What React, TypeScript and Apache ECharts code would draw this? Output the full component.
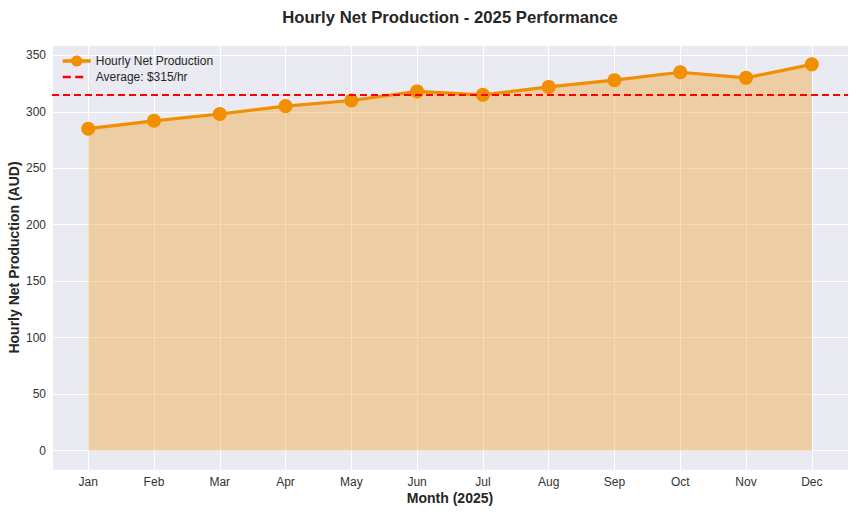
import React, { useEffect, useRef } from "react";
import * as echarts from "echarts";

const months = ["Jan", "Feb", "Mar", "Apr", "May", "Jun", "Jul", "Aug", "Sep", "Oct", "Nov", "Dec"];
const production = [285, 292, 298, 305, 310, 318, 315, 322, 328, 335, 330, 342];
const average = 315;
const seriesName = "Hourly Net Production";
const avgName = "Average: $315/hr";

const FONT = "'Liberation Sans', Arial, sans-serif";

export default function App() {
  const ref = useRef<HTMLDivElement>(null);
  useEffect(() => {
    if (!ref.current) return;
    const chart = echarts.init(ref.current, null, { renderer: "svg" });
    const maxV = Math.max(...production);
    const yPad = maxV * 0.05;
    const n = months.length - 1;
    chart.setOption({
      animation: false,
      backgroundColor: "#ffffff",
      textStyle: { fontFamily: FONT },
      title: {
        text: "Hourly Net Production - 2025 Performance",
        left: 445,
        textAlign: "center",
        top: 4,
        textStyle: { fontSize: 16.7, fontWeight: "bold", color: "#262626", fontFamily: FONT },
      },
      legend: {
        orient: "vertical",
        left: 56,
        top: 50,
        itemWidth: 28,
        itemHeight: 14,
        itemGap: 4,
        textStyle: { fontSize: 12, color: "#262626", fontFamily: FONT },
        data: [
          { name: seriesName, lineStyle: { width: 3.5 } },
          {
            name: avgName,
            icon: "path://M0,0H8V2.5H0Z M12.5,0H20.5V2.5H12.5Z M27.9,0H28V2.5H27.9Z",
            itemStyle: { color: "#FF0000" },
          },
        ],
      },
      grid: {
        left: 52,
        right: 8,
        top: 45,
        bottom: 44,
        show: true,
        backgroundColor: "#EAEAF2",
        borderWidth: 0,
        containLabel: false,
        outerBoundsMode: "none",
      },
      xAxis: {
        type: "value",
        min: -0.55,
        max: n + 0.55,
        minInterval: 1,
        maxInterval: 1,
        name: "Month (2025)",
        nameLocation: "middle",
        nameGap: 21,
        nameMoveOverlap: false,
        nameTextStyle: { fontSize: 14, fontWeight: "bold", color: "#262626", fontFamily: FONT },
        axisLine: { show: false },
        axisTick: { show: false },
        axisLabel: {
          showMinLabel: false,
          showMaxLabel: false,
          margin: 6,
          fontSize: 12,
          color: "#333333",
          fontFamily: FONT,
          formatter: (v: number) => (Number.isInteger(v) && v >= 0 && v <= n ? months[v] : ""),
        },
        splitLine: { show: true, lineStyle: { color: "#ffffff", width: 1 } },
      },
      yAxis: {
        type: "value",
        min: -yPad,
        max: maxV + yPad,
        minInterval: 50,
        maxInterval: 50,
        splitNumber: 7,
        name: "Hourly Net Production (AUD)",
        nameLocation: "middle",
        nameGap: 31,
        nameMoveOverlap: false,
        nameTextStyle: { fontSize: 14, fontWeight: "bold", color: "#262626", fontFamily: FONT },
        axisLine: { show: false },
        axisTick: { show: false },
        axisLabel: {
          showMinLabel: false,
          showMaxLabel: false,
          margin: 6,
          fontSize: 12,
          color: "#333333",
          fontFamily: FONT,
        },
        splitLine: { show: true, lineStyle: { color: "#ffffff", width: 1 } },
      },
      series: [
        {
          name: seriesName,
          type: "line",
          data: production.map((v, i) => [i, v]),
          symbol: "circle",
          symbolSize: 14,
          clip: false,
          lineStyle: { color: "#F18F01", width: 3.2 },
          itemStyle: { color: "#F18F01" },
          areaStyle: { color: "rgba(241,143,1,0.32)", opacity: 1, origin: 0 },
          z: 3,
        },
        {
          name: avgName,
          type: "line",
          data: [],
          symbol: "none",
          lineStyle: { color: "#FF0000", width: 2, type: [7, 4] },
          itemStyle: { color: "#FF0000" },
          markLine: {
            silent: true,
            symbol: ["none", "none"],
            label: { show: false },
            lineStyle: { color: "#FF0000", width: 2, type: [7, 4] },
            data: [{ yAxis: average }],
          },
          z: 4,
        },
      ],
    });
    return () => chart.dispose();
  }, []);
  return (
    <div
      ref={ref}
      style={{ position: "fixed", left: 0, top: 0, width: 856, height: 514 }}
    />
  );
}
